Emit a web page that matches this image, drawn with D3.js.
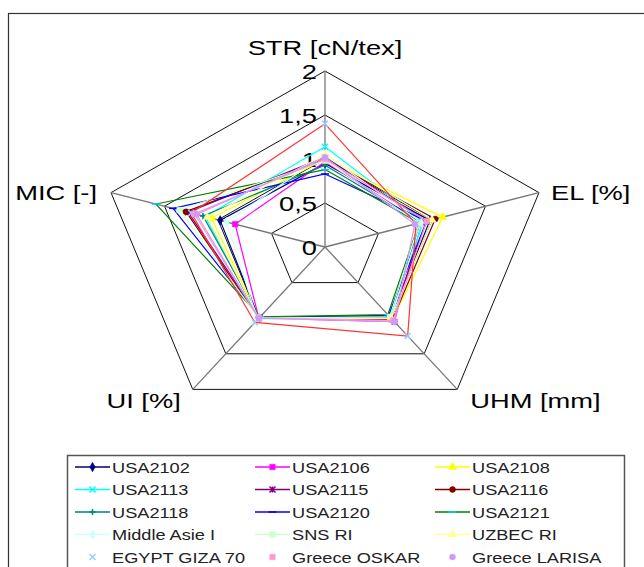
<!DOCTYPE html>
<html>
<head>
<meta charset="utf-8">
<script src="https://cdn.jsdelivr.net/npm/d3@7"></script>
<style>
body { margin: 0; background: #fff; }
svg { display: block; font-family: "Liberation Sans", Arial, sans-serif; }
</style>
</head>
<body>
<svg></svg>
<script>
const width = 644
const height = 567

// axes and ticks
const axes = ['STR [cN/tex]', 'EL [%]', 'UHM [mm]', 'UI [%]', 'MIC [-]']
const ticks = [0, 0.5, 1, 1.5, 2]
const tickLabels = ['0', '0,5', '1', '1,5', '2']

// series: STR, EL, UHM, UI, MIC (relative values)
const series = ['USA2102', 'USA2106', 'USA2108', 'USA2113', 'USA2115', 'USA2116',
  'USA2118', 'USA2120', 'USA2121', 'Middle Asie I', 'SNS RI', 'UZBEC RI',
  'EGYPT GIZA 70', 'Greece OSKAR', 'Greece LARISA']
const values = [
  [0.95, 0.98, 1.00, 1.00, 0.98],
  [0.97, 0.90, 1.05, 1.00, 0.84],
  [1.00, 1.10, 1.02, 1.00, 1.06],
  [1.14, 0.92, 0.98, 1.00, 1.12],
  [1.02, 0.95, 1.00, 0.99, 1.28],
  [1.00, 1.03, 1.02, 1.00, 1.30],
  [0.93, 0.90, 0.97, 0.99, 1.14],
  [0.83, 0.95, 0.96, 0.99, 1.42],
  [0.88, 0.88, 0.95, 0.98, 1.58],
  [1.05, 0.90, 1.00, 1.02, 0.92],
  [0.98, 0.88, 0.98, 1.00, 1.36],
  [1.05, 1.00, 1.00, 1.00, 1.10],
  [1.40, 0.85, 1.25, 1.06, 1.25],
  [1.00, 0.95, 1.03, 1.00, 1.22],
  [1.02, 0.84, 1.05, 1.00, 1.20]
]
const lineColors = ['#000080', '#ff00ff', '#ffff00', '#00ffff', '#800080', '#800000',
  '#008080', '#0000ff', '#008000', '#ccffff', '#ccffcc', '#ffff99',
  '#ff3333', '#ff99cc', '#cc99ff']
const markerColors = ['#000080', '#ff00ff', '#ffff00', '#00ffff', '#800080', '#800000',
  '#008080', '#0000ff', '#00ccff', '#ccffff', '#ccffcc', '#ffff99',
  '#99ccff', '#ff99cc', '#cc99ff']
const markers = ['diamond', 'square', 'triangle', 'x', 'star', 'circle', 'plus', 'dash', 'dash',
  'diamond', 'square', 'triangle', 'x', 'square', 'circle']

// geometry (picture is stretched horizontally)
const cx = 325, cy = 247
const rX = d3.scaleLinear().domain([0, 2]).range([0, 225])
const rY = d3.scaleLinear().domain([0, 2]).range([0, 176])
const angle = d3.scaleLinear().domain([0, axes.length]).range([-Math.PI / 2, 1.5 * Math.PI])
const pt = (v, i) => [cx + rX(v) * Math.cos(angle(i)), cy + rY(v) * Math.sin(angle(i))]
const textStretch = 1.3

const svg = d3.select('svg').attr('width', width).attr('height', height)

// outer frame
svg.append('rect').attr('x', 8.5).attr('y', 13.5).attr('width', 700).attr('height', 600)
  .attr('fill', 'none').attr('stroke', '#333').attr('stroke-width', 1.2)

const g = svg.append('g')

// grid pentagons
const line = d3.line()
ticks.filter(t => t > 0).forEach(t => {
  g.append('path').attr('d', line(d3.range(axes.length).map(i => pt(t, i))) + 'Z')
    .attr('fill', 'none').attr('stroke', '#111').attr('stroke-width', 1)
})
// spokes
axes.forEach((a, i) => {
  const [x, y] = pt(2, i)
  g.append('line').attr('x1', cx).attr('y1', cy).attr('x2', x).attr('y2', y)
    .attr('stroke', '#777').attr('stroke-width', 1.3)
})

// axis labels
const labelOffsets = [[0, -16, 'middle'], [12, 7, 'start'], [13, 19, 'start'], [-12, 19, 'end'], [-14, 7, 'end']]
axes.forEach((a, i) => {
  const [x, y] = pt(2, i)
  const o = labelOffsets[i]
  g.append('text').attr('transform', `translate(${x + o[0]},${y + o[1]}) scale(${textStretch},1)`)
    .attr('text-anchor', o[2]).attr('font-size', 21).attr('fill', '#000').text(a)
})

// tick labels
ticks.forEach((t, k) => {
  g.append('text').attr('transform', `translate(${cx - 8},${pt(t, 0)[1] + 8}) scale(${textStretch},1)`)
    .attr('text-anchor', 'end').attr('font-size', 21).attr('fill', '#000').text(tickLabels[k])
})

// marker shapes
function markerPath(type) {
  const s = 3
  switch (type) {
    case 'diamond': return d3.symbol(d3.symbolDiamond, 26)()
    case 'square': return d3.symbol(d3.symbolSquare, 30)()
    case 'triangle': return d3.symbol(d3.symbolTriangle, 30)()
    case 'circle': return d3.symbol(d3.symbolCircle, 28)()
    case 'x': return `M${-s},${-s}L${s},${s}M${-s},${s}L${s},${-s}`
    case 'star': return `M${-s},${-s}L${s},${s}M${-s},${s}L${s},${-s}M0,${-s}L0,${s}`
    case 'plus': return `M${-s},0L${s},0M0,${-s}L0,${s}`
    case 'dash': return `M${-s - 1},0L${s + 1},0`
  }
}
const filled = t => ['diamond', 'square', 'triangle', 'circle'].includes(t)

// series
values.forEach((vals, j) => {
  const pts = vals.map((v, i) => pt(v, i))
  const sg = g.append('g')
  sg.append('path').attr('d', line(pts) + 'Z').attr('fill', 'none')
    .attr('stroke', lineColors[j]).attr('stroke-width', 1.2)
  sg.selectAll('path.m').data(pts).enter().append('path').attr('class', 'm')
    .attr('transform', d => `translate(${d[0]},${d[1]})`)
    .attr('d', markerPath(markers[j]))
    .attr('fill', filled(markers[j]) ? markerColors[j] : 'none')
    .attr('stroke', markerColors[j]).attr('stroke-width', filled(markers[j]) ? 0.5 : 1.5)
})

// legend
const lg = svg.append('g')
lg.append('rect').attr('x', 67.5).attr('y', 455.5).attr('width', 557).attr('height', 130)
  .attr('fill', '#fff').attr('stroke', '#555').attr('stroke-width', 1.5)
const colX = [75, 255, 435]
const rowY = [467, 489.5, 512, 534.5, 557]
series.forEach((s, j) => {
  const x = colX[j % 3], y = rowY[Math.floor(j / 3)]
  if (j < 12) {
    lg.append('line').attr('x1', x).attr('x2', x + 35).attr('y1', y).attr('y2', y)
      .attr('stroke', lineColors[j]).attr('stroke-width', 1.5)
  }
  lg.append('path').attr('transform', `translate(${x + 17.5},${y})`).attr('d', markerPath(markers[j]))
    .attr('fill', filled(markers[j]) ? markerColors[j] : 'none')
    .attr('stroke', markerColors[j]).attr('stroke-width', filled(markers[j]) ? 0.5 : 1.5)
  lg.append('text').attr('transform', `translate(${x + 37},${y + 5.5}) scale(${textStretch},1)`)
    .attr('font-size', 14).attr('fill', '#222').text(s)
})
</script>
</body>
</html>
